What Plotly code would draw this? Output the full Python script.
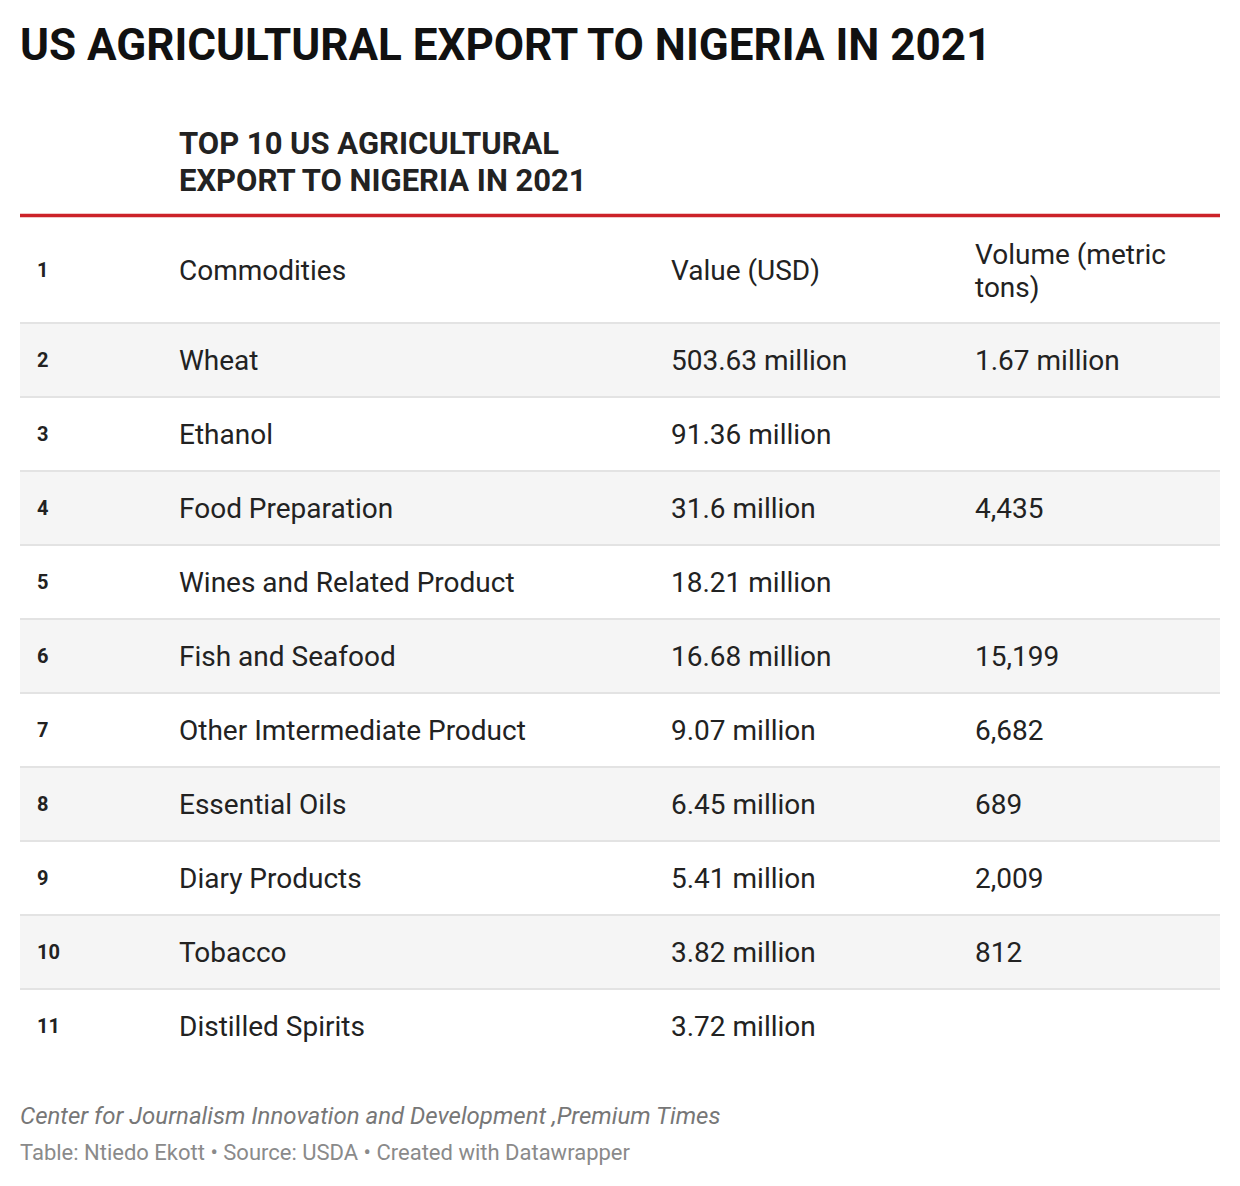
import plotly.graph_objects as go

# ---- data ----
ranks = [2, 3, 4, 5, 6, 7, 8, 9, 10, 11]
commodities = ["Wheat", "Ethanol", "Food Preparation", "Wines and Related Product",
               "Fish and Seafood", "Other Imtermediate Product", "Essential Oils",
               "Diary Products", "Tobacco", "Distilled Spirits"]
value_musd = [503.63, 91.36, 31.6, 18.21, 16.68, 9.07, 6.45, 5.41, 3.82, 3.72]
volume_tons = [1670000, None, 4435, None, 15199, 6682, 689, 2009, 812, None]
header_rank = 1
headers = ["Commodities", "Value (USD)", "Volume (metric<br>tons)"]

TITLE = "US AGRICULTURAL EXPORT TO NIGERIA IN 2021"
SUBTITLE = "TOP 10 US AGRICULTURAL<br>EXPORT TO NIGERIA IN 2021"
NOTE = "Center for Journalism Innovation and Development ,Premium Times"
CREDIT = "Table: Ntiedo Ekott • Source: USDA • Created with Datawrapper"


def fmt_value(v):
    return f"{v:g} million"


def fmt_volume(v):
    if v is None:
        return ""
    if v >= 1_000_000:
        return f"{v / 1_000_000:g} million"
    return f"{v:,}"


OFF = 8  # page body margin
W, H = 1240 - OFF, 1186 - OFF
ROW_PX = 74
BODY_TOP_PX = 323 - OFF  # pixel top of first body row (figure coords)

y_first_edge = ranks[0] - 0.5
y_top = y_first_edge - BODY_TOP_PX / ROW_PX
y_bot = y_first_edge + (H - BODY_TOP_PX) / ROW_PX


def py_to_y(px):
    """page pixel -> y axis value"""
    return y_first_edge + (px - OFF - BODY_TOP_PX) / ROW_PX


def px_x(px):
    return px - OFF


COL_RANK, COL_NAME, COL_VAL, COL_VOL = px_x(37), px_x(179), px_x(671), px_x(975)
LEFT, RIGHT = px_x(20), px_x(1220)
TEXT = "#222222"
FONT = "Roboto"
XS = -2

fig = go.Figure()

# row backgrounds as horizontal bars via the axis
shade_rows = [r for i, r in enumerate(ranks) if i % 2 == 0]
fig.add_trace(go.Bar(
    y=shade_rows, x=[RIGHT - LEFT] * len(shade_rows), base=[LEFT] * len(shade_rows),
    orientation="h", width=1.0, marker=dict(color="#f5f5f5", line=dict(width=0)),
    hoverinfo="skip", showlegend=False))

shapes = []
for r in ranks:
    yv = r - 0.5
    shapes.append(dict(type="line", xref="x", yref="y", x0=LEFT, x1=RIGHT, y0=yv, y1=yv,
                       line=dict(color="#e3e3e3", width=2)))
red_y = py_to_y(215.5)
shapes.append(dict(type="line", xref="x", yref="y", x0=LEFT, x1=RIGHT, y0=red_y, y1=red_y,
                   line=dict(color="#cc2229", width=3.5)))

annotations = []


def text_at(x, y, text, size=28, bold=False, italic=False, color=TEXT):
    if bold:
        text = f"<b>{text}</b>"
    if italic:
        text = f"<i>{text}</i>"
    annotations.append(dict(
        x=x, y=y, xref="x", yref="y", xanchor="left", yanchor="middle", xshift=XS,
        text=text, showarrow=False, align="left",
        font=dict(family=FONT, size=size, color=color)))


def multiline(x, center_px, text, spacing_px, **kw):
    lines = text.split("<br>")
    n = len(lines)
    for i, ln in enumerate(lines):
        py = center_px + (i - (n - 1) / 2) * spacing_px
        text_at(x, py_to_y(py), ln, **kw)


# header row
text_at(COL_RANK, py_to_y(270), str(header_rank), size=20, bold=True)
for x, h in zip([COL_NAME, COL_VAL, COL_VOL], headers):
    multiline(x, 270.5, h, 33)

# body rows
for r, c, v, vol in zip(ranks, commodities, value_musd, volume_tons):
    text_at(COL_RANK, r, str(r), size=20, bold=True)
    text_at(COL_NAME, r, c)
    text_at(COL_VAL, r, fmt_value(v))
    s = fmt_volume(vol)
    if s:
        text_at(COL_VOL, r, s)

# subtitle
multiline(COL_NAME, 161.5, SUBTITLE, 37, size=31, bold=True, color="#222222")

# footer
text_at(px_x(20), py_to_y(1116), NOTE, size=24, italic=True, color="#777777")
text_at(px_x(20), py_to_y(1152), CREDIT, size=22, color="#8a8a8a")

fig.update_layout(
    width=W, height=H,
    margin=dict(l=0, r=0, t=0, b=0),
    paper_bgcolor="white", plot_bgcolor="white",
    title=dict(text=f"<b>{TITLE}</b>", x=LEFT / W, xanchor="left",
               y=1 - (45 - OFF) / H, yanchor="middle",
               font=dict(family=FONT, size=44, color="#111111")),
    xaxis=dict(range=[0, W], visible=False, fixedrange=True),
    yaxis=dict(range=[y_bot, y_top], visible=False, fixedrange=True),
    shapes=shapes, annotations=annotations,
    bargap=0, showlegend=False,
)

fig.write_html("out.html")
